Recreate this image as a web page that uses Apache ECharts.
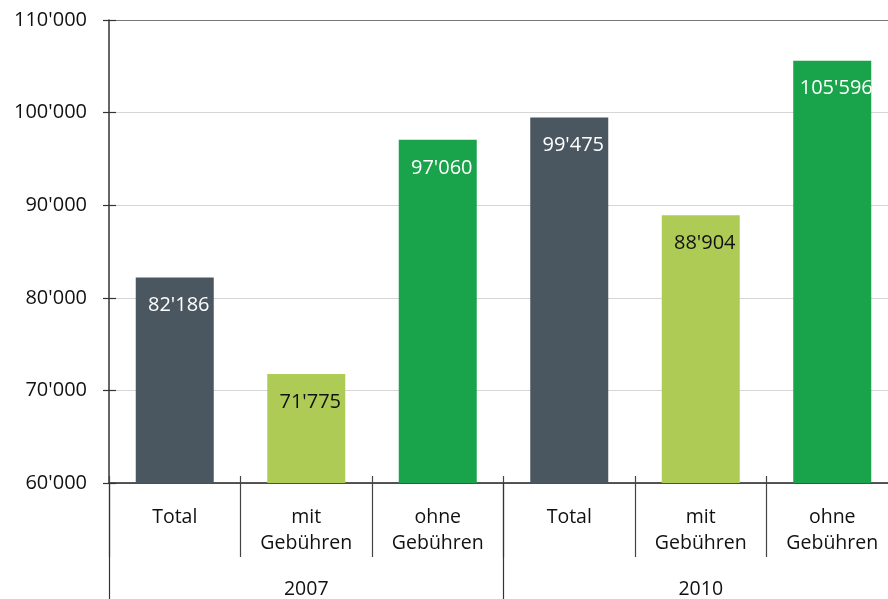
<!DOCTYPE html>
<html>
<head>
<meta charset="utf-8">
<script src="https://cdn.jsdelivr.net/npm/echarts@6/dist/echarts.min.js"></script>
<style>
  html, body { margin: 0; padding: 0; background: #fff; }
  #main { width: 888px; height: 599px; }
</style>
</head>
<body>
<div id="main"></div>
<script>
// categories and values
var categories = ['Total', 'mit\nGebühren', 'ohne\nGebühren', 'Total', 'mit\nGebühren', 'ohne\nGebühren'];
var years = ['2007', '2010'];
var values = [82186, 71775, 97060, 99475, 88904, 105596];
var yTicks = [60000, 70000, 80000, 90000, 100000, 110000];

// colours by position in a group: total / mit / ohne
var barColors = ['#4a5660', '#aecb55', '#19a34a'];
var labelColors = ['#ffffff', '#111111', '#ffffff'];

function fmt(v) {
  return String(v).replace(/\B(?=(\d{3})+(?!\d))/g, "'");
}

var font = 'Open Sans';
var chart = echarts.init(document.getElementById('main'));

var option = {
  animation: false,
  grid: {
    left: 109,
    top: 20,
    width: 789,
    bottom: 116,
    outerBoundsMode: 'none'
  },
  xAxis: [{
    type: 'category',
    position: 'bottom',
    data: categories,
    axisLine: { show: true, lineStyle: { color: '#222', width: 1.5 } },
    axisTick: { show: true, interval: 0, length: 74, lineStyle: { color: '#444', width: 1.2 } },
    axisLabel: {
      interval: 0,
      margin: 21,
      color: '#111',
      fontSize: 19.5,
      lineHeight: 26,
      fontFamily: font
    }
  }, {
    type: 'category',
    position: 'bottom',
    data: categories,
    axisLine: { show: false },
    axisTick: { show: true, inside: true, interval: 0, length: 7, lineStyle: { color: '#444', width: 1.2 } },
    axisLabel: { show: false }
  }, {
    type: 'category',
    position: 'bottom',
    data: years,
    axisLine: { show: false },
    axisTick: { show: true, interval: 0, length: 118, lineStyle: { color: '#333', width: 1.2 } },
    axisLabel: {
      interval: 0,
      margin: 96,
      color: '#111',
      fontSize: 19.5,
      fontFamily: font
    }
  }],
  yAxis: [{
    type: 'value',
    min: yTicks[0],
    max: yTicks[yTicks.length - 1],
    interval: 10000,
    axisLine: { show: true, lineStyle: { color: '#333', width: 1.5 } },
    axisTick: { show: true, length: 6, lineStyle: { color: '#333', width: 1.2 } },
    axisLabel: {
      margin: 22,
      color: '#111',
      fontSize: 20,
      fontFamily: font,
      formatter: function (v) { return fmt(v); }
    },
    splitLine: {
      show: true,
      lineStyle: {
        color: ['#d6d6d6', '#d6d6d6', '#d6d6d6', '#d6d6d6', '#d6d6d6', '#777'],
        width: 1
      }
    }
  }, {
    type: 'value',
    position: 'left',
    min: yTicks[0],
    max: yTicks[yTicks.length - 1],
    interval: 10000,
    axisLine: { show: false },
    axisTick: { show: true, inside: true, length: 7, lineStyle: { color: '#333', width: 1.2 } },
    axisLabel: { show: false },
    splitLine: { show: false }
  }],
  series: [{
    type: 'bar',
    xAxisIndex: 0,
    yAxisIndex: 0,
    barWidth: 78,
    data: values.map(function (v, i) {
      return {
        value: v,
        itemStyle: { color: barColors[i % 3] },
        label: { color: labelColors[i % 3] }
      };
    }),
    label: {
      show: true,
      position: 'insideTop',
      distance: 18,
      offset: [4, 0],
      fontSize: 20,
      fontFamily: font,
      formatter: function (p) { return fmt(p.value); }
    }
  }]
};

chart.setOption(option);
</script>
</body>
</html>
